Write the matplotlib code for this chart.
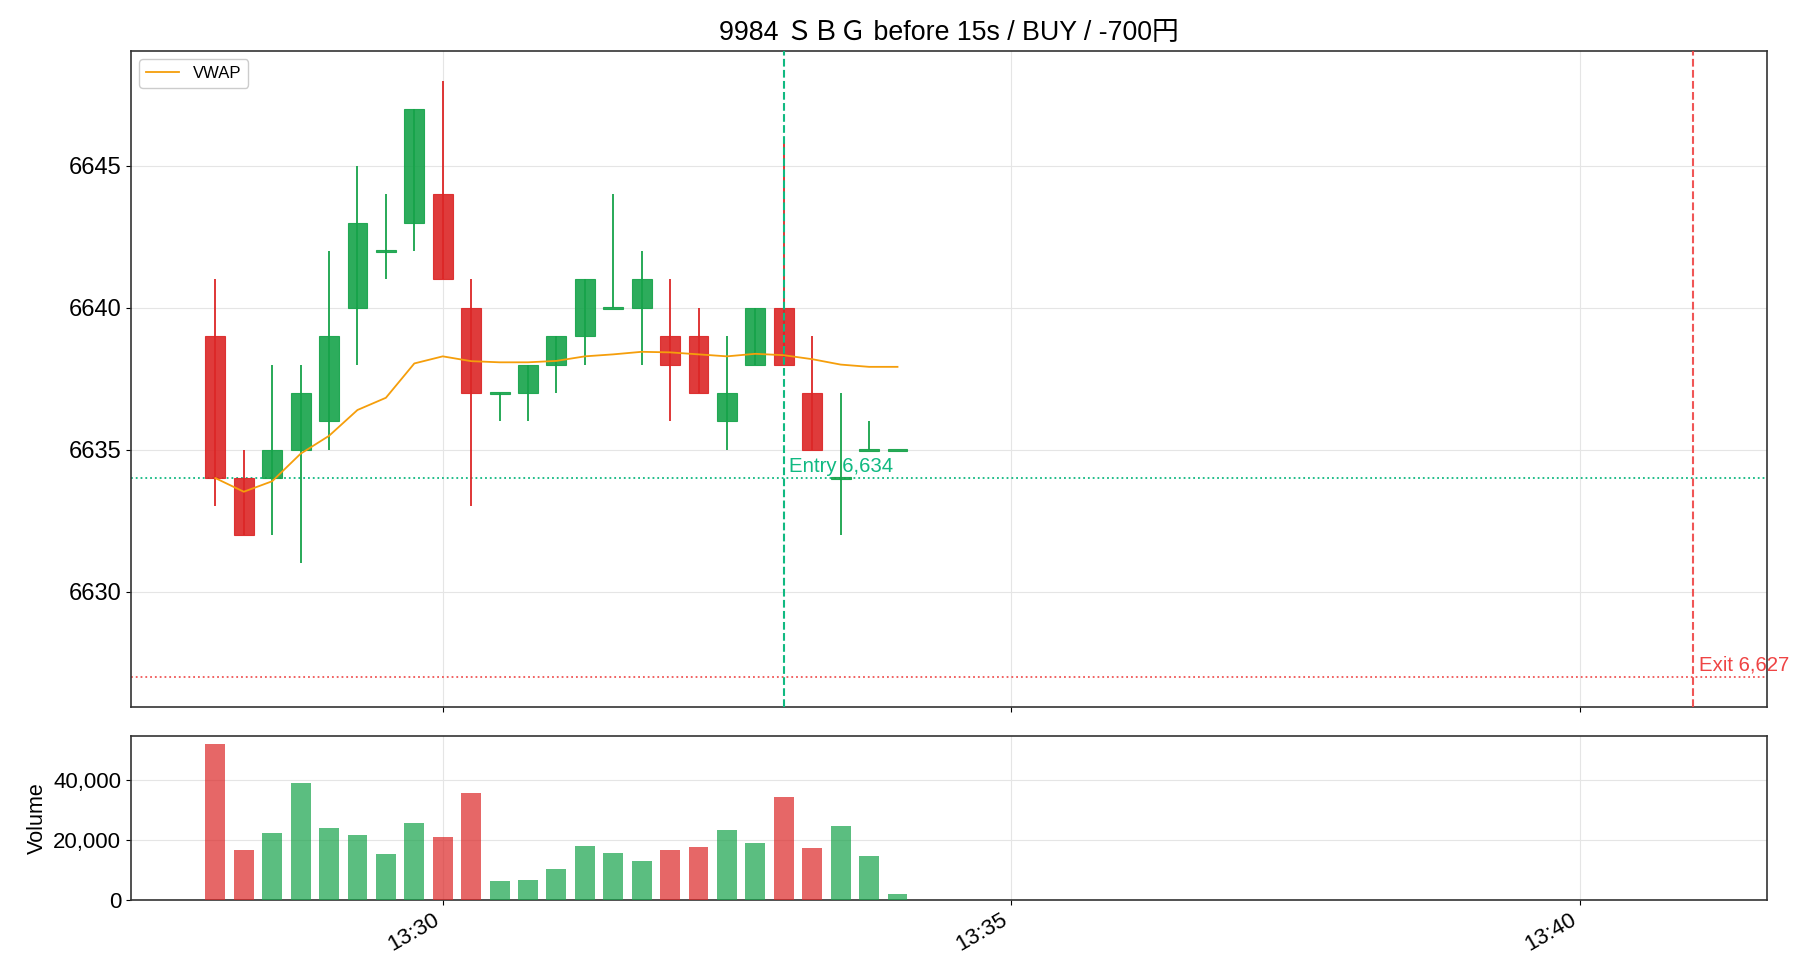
import matplotlib
matplotlib.use("Agg")
import matplotlib.pyplot as plt
import matplotlib.dates as mdates
from matplotlib.ticker import FuncFormatter
import pandas as pd

plt.rcParams['font.family'] = ['Liberation Sans', 'Noto Sans CJK JP', 'DejaVu Sans']

DAY = "2024-01-01 "
times = ["13:28:00", "13:28:15", "13:28:30", "13:28:45", "13:29:00", "13:29:15", "13:29:30",
         "13:29:45", "13:30:00", "13:30:15", "13:30:30", "13:30:45", "13:31:00", "13:31:15",
         "13:31:30", "13:31:45", "13:32:00", "13:32:15", "13:32:30", "13:32:45", "13:33:00",
         "13:33:15", "13:33:30", "13:33:45", "13:34:00"]
opens = [6639, 6634, 6634, 6635, 6636, 6640, 6642, 6643, 6644, 6640, 6637, 6637, 6638,
         6639, 6640, 6640, 6639, 6639, 6636, 6638, 6640, 6637, 6634, 6635, 6635]
highs = [6641, 6635, 6638, 6638, 6642, 6645, 6644, 6647, 6648, 6641, 6637, 6638, 6639,
         6641, 6644, 6642, 6641, 6640, 6639, 6640, 6646, 6639, 6637, 6636, 6635]
lows = [6633, 6632, 6632, 6631, 6635, 6638, 6641, 6642, 6641, 6633, 6636, 6636, 6637,
        6638, 6640, 6638, 6636, 6637, 6635, 6638, 6638, 6635, 6632, 6635, 6635]
closes = [6634, 6632, 6635, 6637, 6639, 6643, 6642, 6647, 6641, 6637, 6637, 6638, 6639,
          6641, 6640, 6641, 6638, 6637, 6637, 6640, 6638, 6635, 6634, 6635, 6635]
volumes = [52000, 16500, 22200, 39000, 23800, 21500, 15200, 25500, 20800, 35700, 6300,
           6600, 10300, 17900, 15500, 12900, 16500, 17500, 23200, 18900, 34400, 17200,
           24500, 14600, 2000]
vwap = [6634.0, 6633.52, 6633.89, 6634.86, 6635.49, 6636.40, 6636.83, 6638.04, 6638.29,
        6638.12, 6638.08, 6638.08, 6638.13, 6638.29, 6638.36, 6638.45, 6638.43, 6638.36,
        6638.29, 6638.38, 6638.33, 6638.19, 6638.0, 6637.92, 6637.92]

entry_time = "13:33:00"
entry_price = 6634
exit_time = "13:41:00"
exit_price = 6627
title = "9984 ＳＢＧ before 15s / BUY / -700円"

UP = '#16a34a'
DOWN = '#dc2626'
ENTRY_C = '#10b981'
EXIT_C = '#ef4444'

t = mdates.date2num(pd.to_datetime([DAY + s for s in times]))
t_entry = mdates.date2num(pd.Timestamp(DAY + entry_time))
t_exit = mdates.date2num(pd.Timestamp(DAY + exit_time))
w = 10.5 / 86400

fig = plt.figure(figsize=(18.2, 9.8), dpi=100)
ax = fig.add_axes([0.072, 0.279, 0.899, 0.669])
axv = fig.add_axes([0.072, 0.082, 0.899, 0.167], sharex=ax)

for x, o, h, l, c in zip(t, opens, highs, lows, closes):
    col = UP if c >= o else DOWN
    ax.vlines(x, l, h, color=col, lw=1.3, zorder=2)
    body = max(abs(c - o), 0.07)
    bot = min(o, c) if c != o else o - 0.035
    ax.bar(x, body, bottom=bot, width=w, color=col, alpha=0.9,
           edgecolor=col, linewidth=0.8, zorder=3)

ax.plot(t, vwap, color='#f59e0b', lw=1.3, label='VWAP', zorder=4)

ax.axvline(t_entry, color=ENTRY_C, ls='--', lw=1.5, zorder=5)
ax.axhline(entry_price, color=ENTRY_C, ls=':', lw=1.3, zorder=1)
ax.text(t_entry + 3 / 86400, entry_price + 0.08, f"Entry {entry_price:,}", color=ENTRY_C,
        fontsize=14.7, va='bottom', ha='left', zorder=6)
ax.axvline(t_exit, color=EXIT_C, ls='--', lw=1.5, alpha=0.9, zorder=5)
ax.axhline(exit_price, color=EXIT_C, ls=':', lw=1.3, alpha=0.9, zorder=1)
ax.text(t_exit + 3 / 86400, exit_price + 0.08, f"Exit {exit_price:,}", color=EXIT_C,
        fontsize=14.7, va='bottom', ha='left', zorder=6)

ax.set_ylim(6625.95, 6649.05)
ax.set_yticks([6630, 6635, 6640, 6645])
ax.grid(True, color='#e5e5e5', lw=0.8)
ax.set_axisbelow(True)
ax.set_title(title, fontsize=19.3, pad=8)
ax.legend(loc='upper left', fontsize=12, framealpha=1, edgecolor='#cccccc')
ax.tick_params(labelbottom=False, labelsize=17)

vcols = [UP if c >= o else DOWN for o, c in zip(opens, closes)]
axv.bar(t, volumes, width=w, color=vcols, alpha=0.7, zorder=3)
axv.set_ylim(0, 54600)
axv.set_yticks([0, 20000, 40000])
axv.yaxis.set_major_formatter(FuncFormatter(lambda v, p: f"{v:,.0f}"))
axv.set_ylabel("Volume", fontsize=15.5)
axv.grid(True, color='#e5e5e5', lw=0.8)
axv.set_axisbelow(True)
axv.tick_params(labelsize=16)

axv.set_xlim(mdates.date2num(pd.Timestamp(DAY + "13:27:15.5")),
             mdates.date2num(pd.Timestamp(DAY + "13:41:39")))
axv.xaxis.set_major_locator(mdates.MinuteLocator(byminute=[30, 35, 40]))
axv.xaxis.set_major_formatter(mdates.DateFormatter('%H:%M'))
for lab in axv.get_xticklabels():
    lab.set_rotation(30)
    lab.set_ha('right')

for a in (ax, axv):
    for s in a.spines.values():
        s.set_color('#333333')
        s.set_linewidth(1.2)

fig.savefig("out.png", dpi=100)
